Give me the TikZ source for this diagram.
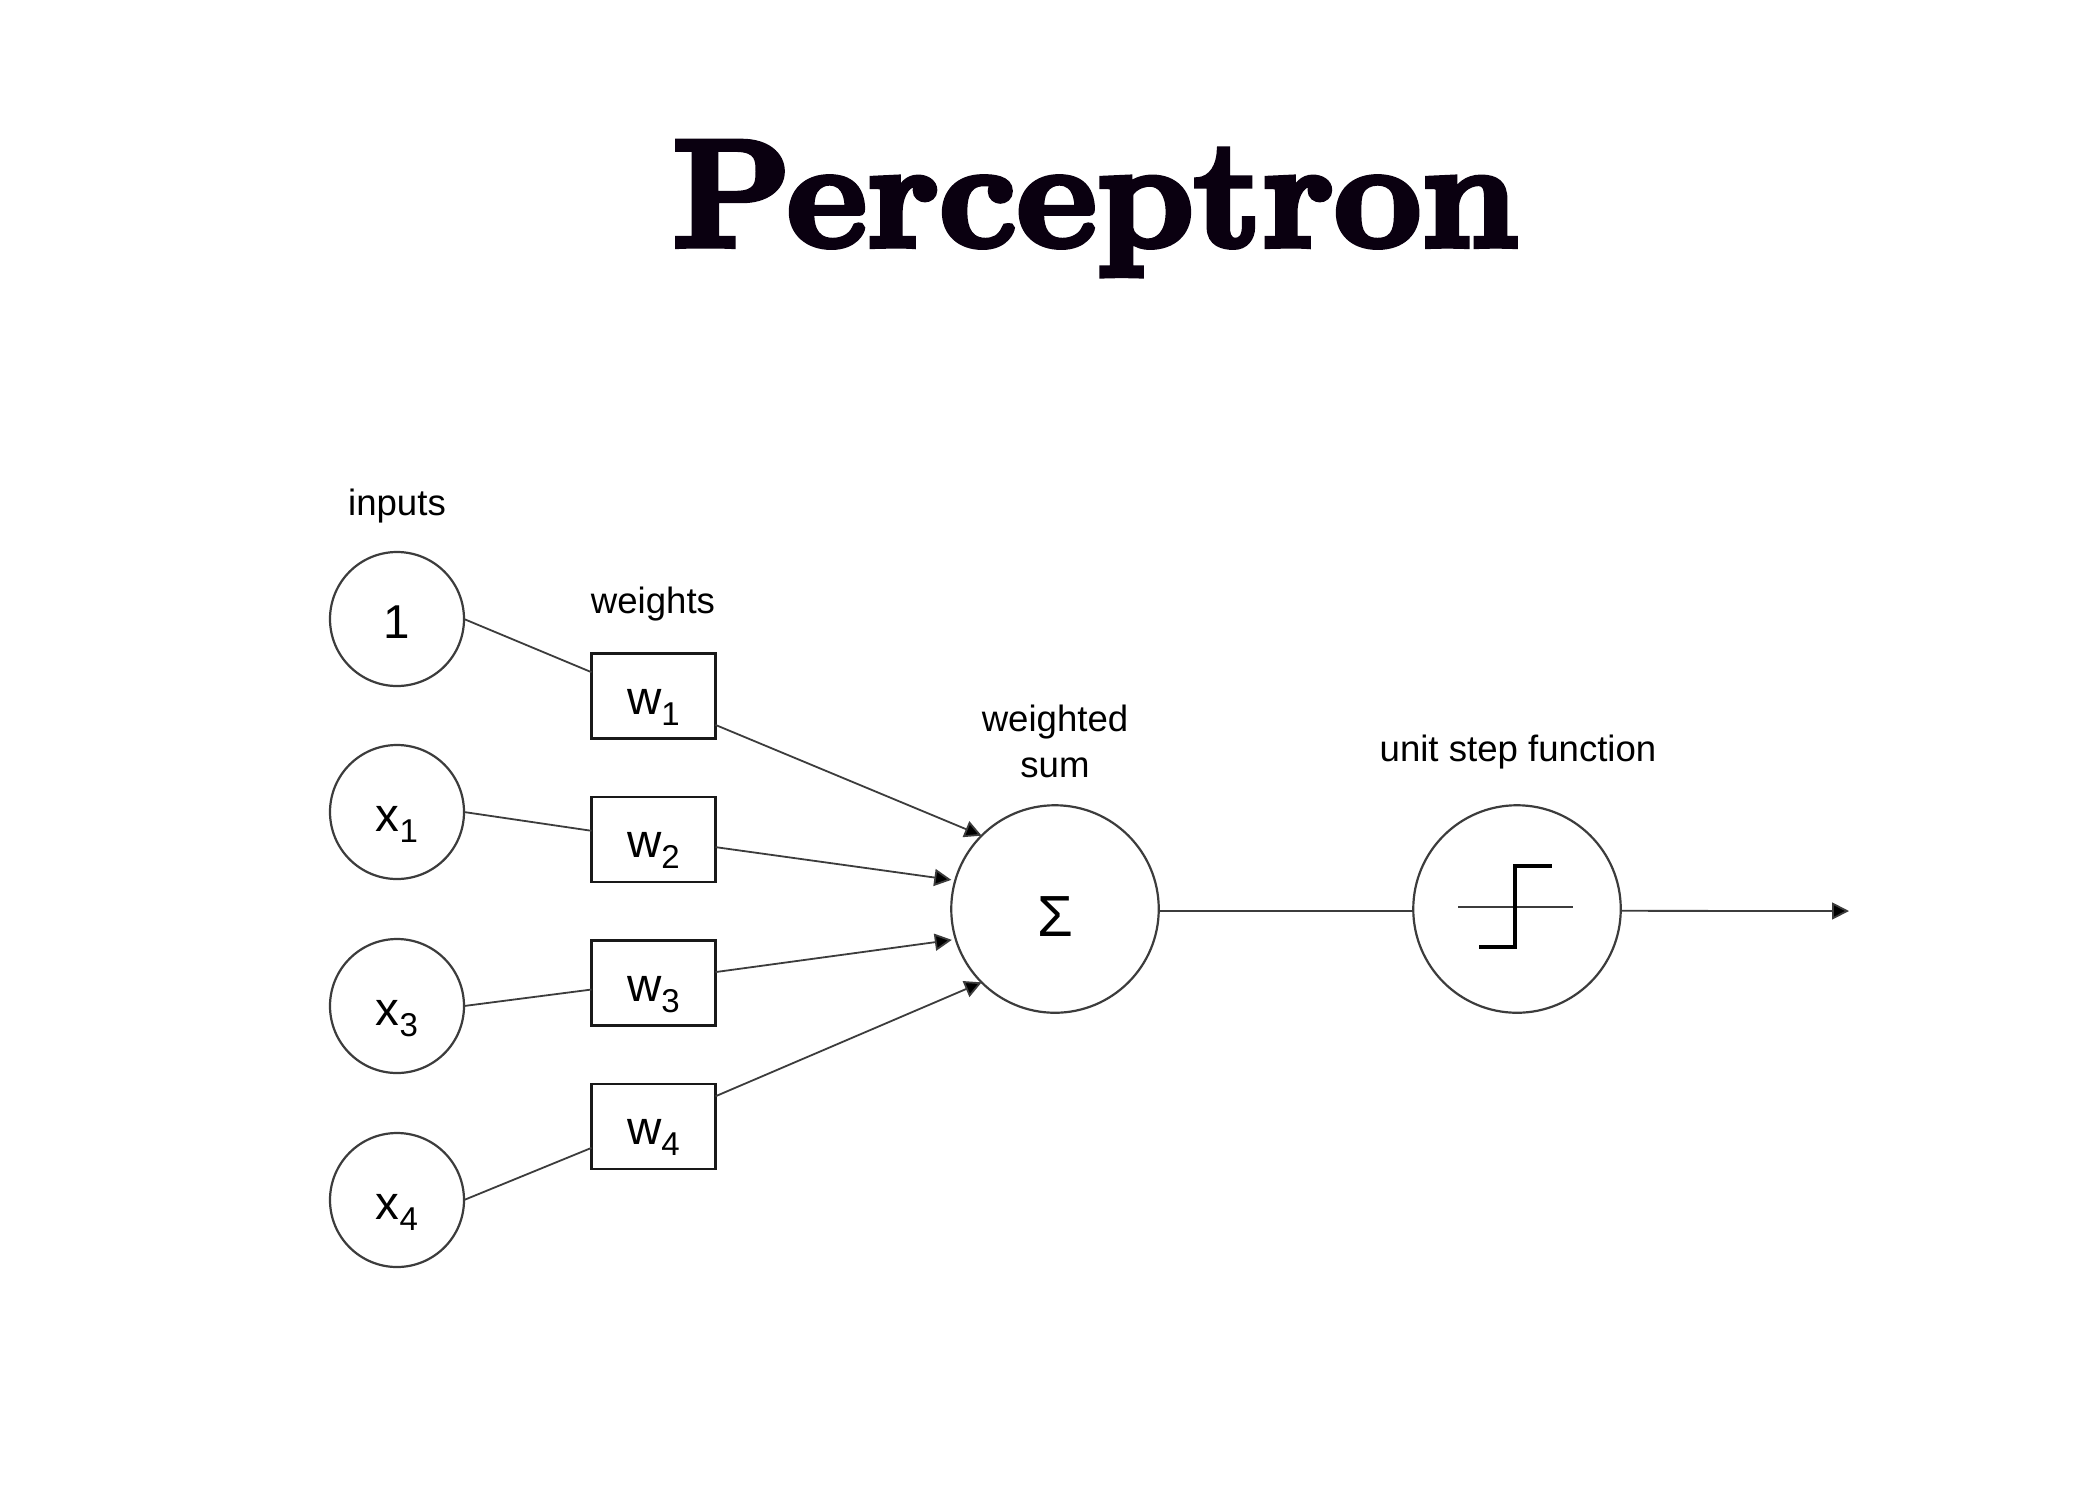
\documentclass[tikz,border=0pt]{standalone}
\usepackage{fontspec}
\setmainfont{Liberation Sans}
\newfontfamily\titlefont[Extension=.otf,FakeBold=4,FakeStretch=1.0]{lmroman10-bold}
\usetikzlibrary{arrows.meta}
\newcommand\subs[1]{\raisebox{-11pt}{\fontsize{33}{33}\selectfont #1}}
\definecolor{linegray}{HTML}{3C3C3C}
\definecolor{titleink}{HTML}{0A0010}
\tikzset{
  x=1pt,y=-1pt,
  circ/.style={draw=linegray,line width=2.2pt,circle,minimum size=134pt,inner sep=0pt,outer sep=0pt,
    font=\fontsize{47.5}{48}\selectfont,text height=48pt,text depth=10pt,text=black},
  bigcirc/.style={draw=linegray,line width=2.2pt,circle,minimum size=207.5pt,inner sep=0pt,outer sep=0pt,text=black},
  wbox/.style={draw=black!90,line width=2.8pt,rectangle,minimum width=124pt,minimum height=85pt,inner sep=0pt,outer sep=0pt,
    font=\fontsize{47.5}{48}\selectfont,text height=46pt,text depth=10pt},
  caption/.style={font=\fontsize{36.6}{46}\selectfont,anchor=base,inner sep=0pt,align=center},
  conn/.style={draw=linegray,line width=1.8pt},
  arrowconn/.style={conn,-{Triangle[length=17pt,width=17pt,fill=black]}},
  thinmark/.style={draw=linegray,line width=1.6pt},
  thickmark/.style={draw=black,line width=4.8pt,miter limit=10}
}
\begin{document}
\begin{tikzpicture}
\useasboundingbox (0,0) rectangle (2100,1500);
\fill[white] (0,0) rectangle (2100,1500);
\node[anchor=base west,inner sep=0pt,text=titleink,font=\titlefont\fontsize{152}{152}\selectfont] (title) at (672,246) {Perceptron};
\node[caption] (linputs) at (397,515) {inputs};
\node[caption] (lweights) at (653,613) {weights};
\node[caption] (lsum) at (1055,777) {weighted\\sum};
\node[caption] (lstep) at (1518,761) {unit step function};
\node[circ] (c1) at (397,619) {1};
\node[circ] (c2) at (397,812) {x\subs{1}};
\node[circ] (c3) at (397,1006) {x\subs{3}};
\node[circ] (c4) at (397,1200) {x\subs{4}};
\node[wbox] (w1) at (653.5,696) {w\subs{1}};
\node[wbox] (w2) at (653.5,839.5) {w\subs{2}};
\node[wbox] (w3) at (653.5,983) {w\subs{3}};
\node[wbox] (w4) at (653.5,1126.5) {w\subs{4}};
\node[bigcirc,font=\fontsize{58}{58}\selectfont,text height=65pt,text depth=10pt] (sum) at (1055,909) {Σ};
\node[bigcirc] (step) at (1517,909) {};
\coordinate (out) at (1849,911);
\draw[conn] (c1.east) -- (w1.159);
\draw[conn] (c2.east) -- (w2.172.3);
\draw[conn] (c3.east) -- (w3.186.4);
\draw[conn] (c4.east) -- (w4.199);
\draw[arrowconn] (w1.-25) -- (sum.135);
\draw[arrowconn,shorten >=4pt] (w2.-7.7) -- (sum.164);
\draw[arrowconn,shorten >=4pt] (w3.10) -- (sum.197);
\draw[arrowconn] (w4.26.7) -- (sum.225);
\draw[conn] (sum.-1.1) -- (step.181.1);
\draw[arrowconn] (step.-1.1) -- (out);
\draw[thinmark] ([shift={(-59,-2)}]step.center) -- ([shift={(56,-2)}]step.center);
\draw[thickmark] ([shift={(-38,38)}]step.center) -- ([shift={(-2,38)}]step.center) -- ([shift={(-2,-43)}]step.center) -- ([shift={(35,-43)}]step.center);
\end{tikzpicture}
\end{document}
